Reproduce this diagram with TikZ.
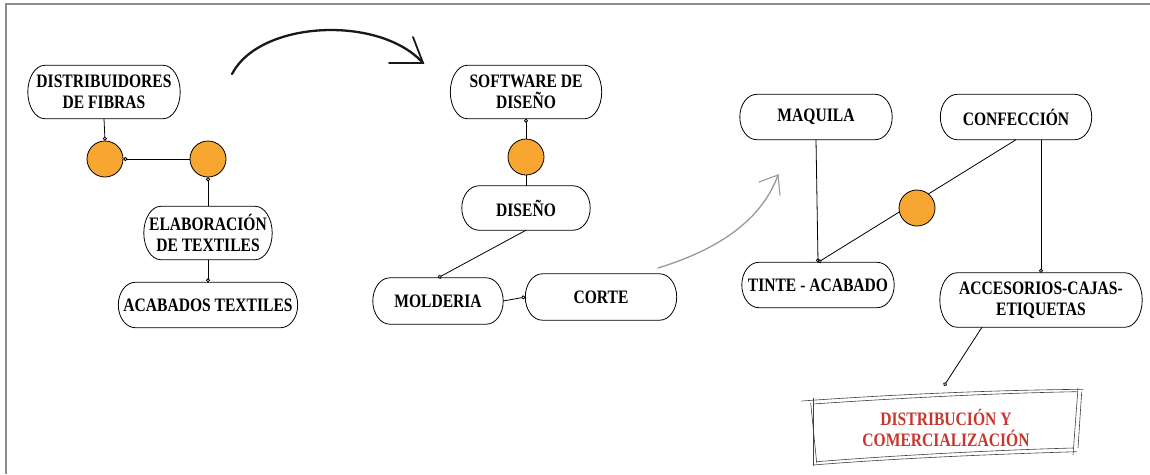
\documentclass[tikz,border=0pt]{standalone}
\usepackage{fontspec}
\setmainfont{Liberation Serif}[FakeStretch=0.82]
\usetikzlibrary{arrows.meta,calc}
\definecolor{dotc}{HTML}{F7A631}
\definecolor{redtxt}{HTML}{C8372D}
\definecolor{framec}{HTML}{8C8C8C}
\newcommand\stadbox[2]{%
  \draw[line width=0.8pt] let \p1=(#1.north west), \p2=(#1.south east), \n1={(\y1-\y2)/2} in
    (\x1+#2,\y1) -- (\x2-#2,\y1) arc[start angle=90,end angle=-90,x radius=#2,y radius=\n1]
    -- (\x1+#2,\y2) arc[start angle=270,end angle=90,x radius=#2,y radius=\n1] -- cycle;}
\begin{document}
\begin{tikzpicture}[x=1pt,y=-1pt,
  box/.style={rectangle, inner sep=0pt, align=center, font=\bfseries\fontsize{19}{21}\selectfont},
  hub/.style={circle, draw=black, line width=0.8pt, fill=dotc, minimum size=36pt, inner sep=0pt},
  link/.style={line width=0.8pt, -{Circle[open,length=4pt,width=4pt]}},
  plain/.style={line width=0.8pt},
  sketch/.style={line width=0.6pt, black!75},
]
\useasboundingbox (0,0) rectangle (1150,474);
\fill[white] (0,0) rectangle (1150,474);
% frame
\draw[framec, line width=2pt] (6,474) -- (6,4) -- (1150,4);

% left group
\node[box, minimum width=152pt, minimum height=53pt] (dist) at (104,92) {DISTRIBUIDORES\\DE FIBRAS};
\node[hub] (c1) at (105,159) {};
\node[hub] (c2) at (208,159) {};
\node[box, minimum width=128pt, minimum height=53pt] (elab) at (208,233) {ELABORACIÓN\\DE TEXTILES};
\node[box, minimum width=179pt, minimum height=45pt] (acab) at (208,305) {ACABADOS TEXTILES};

% middle group
\node[box, minimum width=151pt, minimum height=53pt] (soft) at (526,92) {SOFTWARE DE\\DISEÑO};
\node[hub] (c3) at (526,157) {};
\node[box, minimum width=128pt, minimum height=44pt] (dis) at (526,208) {DISEÑO};
\node[box, minimum width=130pt, minimum height=46pt] (mold) at (438,301) {MOLDERIA};
\node[box, minimum width=151pt, minimum height=46pt] (corte) at (601,297) {CORTE};

% right group
\node[box, minimum width=152pt, minimum height=45pt] (maq) at (816,117) {MAQUILA};
\node[box, minimum width=151pt, minimum height=45pt] (conf) at (1016,117) {CONFECCIÓN};
\node[box, minimum width=152pt, minimum height=45pt] (tinte) at (818,285) {TINTE - ACABADO};
\node[box, minimum width=202pt, minimum height=54pt] (acc) at (1041,300) {ACCESORIOS-CAJAS-\\ETIQUETAS};

\foreach \nm in {dist,elab,acab,soft,dis,mold,corte,maq,conf,tinte,acc} {\stadbox{\nm}{17pt}}

% final box
\node[minimum width=268pt, minimum height=68pt, inner sep=0pt, align=center,
  font=\bfseries\fontsize{19}{21}\selectfont, text=redtxt] (distr) at (946,428) {DISTRIBUCIÓN Y\\COMERCIALIZACIÓN};
\draw[sketch] (801.7,401) .. controls (900,394) and (1000,390) .. (1083.3,389.3);
\draw[sketch] (813,404) .. controls (900,398) and (1000,393) .. (1076.7,391.7);
\draw[sketch] (813,398) -- (813,466);
\draw[sketch] (810.7,403) -- (816.7,463);
\draw[sketch] (1078,388) -- (1073,455);
\draw[sketch] (1081.7,391.7) -- (1078,448);
\draw[sketch] (813,465) .. controls (900,458) and (1000,454) .. (1076.7,451.7);
\draw[sketch] (816.7,461.7) .. controls (900,455) and (1000,450) .. (1073,448);

% connectors
\draw[link] (dist.south) -- (c1.north);
\draw[link] (c2.west) -- (c1.east);
\draw[link] (elab.north) -- (c2.south);
\draw[link] (elab.south) -- (acab.north);
\draw[link] (c3.north) -- (soft.south);
\draw[plain] (c3.south) -- (dis.north);
\draw[link] (dis.south) -- (mold.north);
\draw[link] (mold.east) -- (corte.west);
\draw[link] (maq.south) -- (tinte.north);
\draw[link] (conf.south) -- (tinte.north);
\draw[link] (conf.south -| acc.north) -- (acc.north);
\draw[link] ([xshift=-59pt]acc.south) -- ([xshift=-2pt,yshift=8pt]distr.north);
\node[hub] (c4) at (917,208) {};

% big hand-drawn arrow
\coordinate (a0) at (232,74);
\coordinate (a1) at (423,63);
\coordinate (b1) at (413,37);
\coordinate (b2) at (389,63);
\draw[line width=2.3pt, line cap=round, black!90] (a0) .. controls (260,20) and (380,15) .. (a1);
\draw[line width=1.8pt, line cap=round, black!90] (b1) -- (a1) -- (b2);

% gray arrow
\coordinate (g0) at (658,268);
\coordinate (g1) at (778,175);
\coordinate (h1) at (759,182);
\coordinate (h2) at (780,195);
\draw[line width=1.3pt, line cap=round, black!40] (g0) .. controls (710,252) and (760,225) .. (g1);
\draw[line width=1.1pt, line cap=round, black!40] (h1) -- (g1) -- (h2);
\end{tikzpicture}
\end{document}
